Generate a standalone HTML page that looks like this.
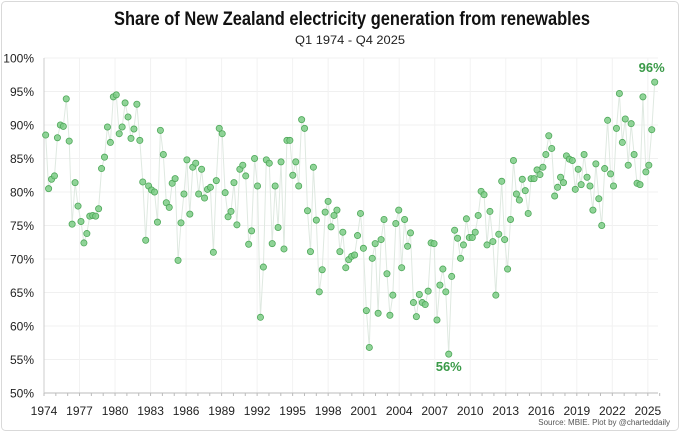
<!DOCTYPE html>
<html><head><meta charset="utf-8"><style>
body{margin:0;background:#fff;}
svg{display:block;font-family:"Liberation Sans",sans-serif;}
</style></head><body>
<svg id="chart" width="680" height="432" viewBox="0 0 680 432">
<rect x="1.5" y="1.5" width="677" height="429" rx="4" fill="#fff" stroke="#d9d9d9"/>
<text x="352" y="25" text-anchor="middle" font-size="19" font-weight="bold" fill="#111" textLength="476" lengthAdjust="spacingAndGlyphs">Share of New Zealand electricity generation from renewables</text>
<text x="350" y="44" text-anchor="middle" font-size="12" fill="#222" textLength="110" lengthAdjust="spacingAndGlyphs">Q1 1974 - Q4 2025</text>
<g id="grid"></g><g id="axes"></g><g id="series"></g>
<text x="670" y="425" text-anchor="end" font-size="8" fill="#555">Source: MBIE.  Plot by @charteddaily</text>
</svg>
<script>
const yTicks=[50,55,60,65,70,75,80,85,90,95,100];
const xTicks=[1974,1977,1980,1983,1986,1989,1992,1995,1998,2001,2004,2007,2010,2013,2016,2019,2022,2025];
const startYear=1974;
const shares=[88.5,80.5,81.9,82.4,88.1,90.0,89.8,93.9,87.6,75.2,81.4,77.9,75.6,72.4,73.8,76.4,76.5,76.4,77.5,83.5,85.2,89.7,87.4,94.2,94.5,88.7,89.7,93.3,91.2,88.0,89.4,93.1,87.7,81.5,72.8,80.9,80.3,80.0,75.5,89.2,85.6,78.4,77.7,81.3,82.0,69.8,75.4,79.7,84.8,76.7,
83.7,84.3,79.7,83.4,79.1,80.4,80.7,71.0,81.7,89.5,88.7,79.9,76.3,77.1,81.4,75.1,83.4,84.0,82.4,72.2,74.2,85.0,80.9,61.3,68.8,84.8,84.3,72.3,80.9,74.7,84.5,71.5,87.7,87.7,82.5,84.5,80.9,90.8,89.5,77.2,71.1,83.7,75.8,65.1,68.4,77.0,78.6,74.8,76.5,77.3,71.1,
74.0,68.7,69.9,70.4,70.6,73.5,76.8,71.6,62.3,56.8,70.1,72.3,61.9,72.9,75.9,67.8,61.6,64.6,75.3,77.3,68.7,75.9,71.9,73.9,63.5,61.4,64.7,63.5,63.2,65.2,72.4,72.3,60.9,66.1,68.5,65.1,55.8,67.4,74.3,73.1,70.1,72.1,76.0,73.2,73.2,74.0,76.5,80.1,79.6,72.1,77.1,
72.6,64.6,73.7,81.6,72.9,68.5,75.9,84.7,79.7,78.8,81.9,80.2,76.8,82.0,82.0,83.3,82.6,83.7,85.6,88.4,86.5,79.4,80.7,82.2,81.4,85.4,84.9,84.7,80.4,83.4,81.1,85.6,82.2,80.9,77.3,84.2,79.0,75.0,83.5,90.7,82.7,80.9,89.5,94.7,87.4,90.9,84.0,90.2,85.6,81.3,81.1,94.2,83.0,84.0,89.3,96.4];
const NS='http://www.w3.org/2000/svg';
const X0=44,PXY=11.84,Y0=393,PXV=6.7;
function xs(t){return X0+(t-startYear)*PXY;}
function ys(v){return Y0-(v-50)*PXV;}
function mk(tag,attrs,parent){const e=document.createElementNS(NS,tag);for(const k in attrs)e.setAttribute(k,attrs[k]);parent.appendChild(e);return e;}
const grid=document.getElementById('grid'),axes=document.getElementById('axes'),ser=document.getElementById('series');
yTicks.forEach(v=>{
 const l=mk('line',{x1:X0,x2:658,y1:ys(v),y2:ys(v),stroke:'#f0f0f0','stroke-width':1},grid);
 
 
 const t=mk('text',{x:34,y:ys(v)+4.5,'text-anchor':'end','font-size':12,fill:'#222'},axes);
 t.textContent=v+'%';
 
 
});
xTicks.forEach(yr=>{
 const l=mk('line',{x1:xs(yr),x2:xs(yr),y1:ys(100),y2:Y0,stroke:'#f2f2f2','stroke-width':1},grid);
 
 
 const t=mk('text',{x:xs(yr),y:415,'text-anchor':'middle','font-size':12,fill:'#222'},axes);
 t.textContent=yr;
 
 
});
for(let yr=1974;yr<=2026;yr++){
 const tk=mk('line',{x1:xs(yr),x2:xs(yr),y1:Y0,y2:Y0+3,stroke:'#bbb','stroke-width':1},axes);
 
 
}
const ax=mk('line',{x1:X0,x2:658,y1:Y0,y2:Y0,stroke:'#bbb','stroke-width':1},axes);


const ay=mk('line',{x1:X0,x2:X0,y1:ys(100),y2:Y0,stroke:'#ccc','stroke-width':1},axes);


const tOf=i=>startYear+0.14+i*0.2485;
const pts=shares.map((v,i)=>xs(tOf(i)).toFixed(1)+','+ys(v).toFixed(1)).join(' ');
const pl=mk('polyline',{points:pts,fill:'none',stroke:'#dfe9e1','stroke-width':1},ser);


shares.forEach((v,i)=>{
 const c=mk('circle',{cx:xs(tOf(i)),cy:ys(v),r:3.1,fill:'#7ccc86','fill-opacity':0.85,stroke:'#4fa85a','stroke-width':0.8},ser);
 
 
});
let mi=0,ma=0;shares.forEach((v,i)=>{if(v<shares[mi])mi=i;if(v>shares[ma])ma=i;});
const lmin=mk('text',{x:xs(tOf(mi)),y:ys(shares[mi])+17,'text-anchor':'middle','font-size':13,'font-weight':'bold',fill:'#3a9a48'},ser);
lmin.textContent=Math.round(shares[mi])+'%';


const lmax=mk('text',{x:xs(tOf(ma))-3,y:ys(shares[ma])-10,'text-anchor':'middle','font-size':13,'font-weight':'bold',fill:'#3a9a48'},ser);
lmax.textContent=Math.round(shares[ma])+'%';


</script>
</body></html>
